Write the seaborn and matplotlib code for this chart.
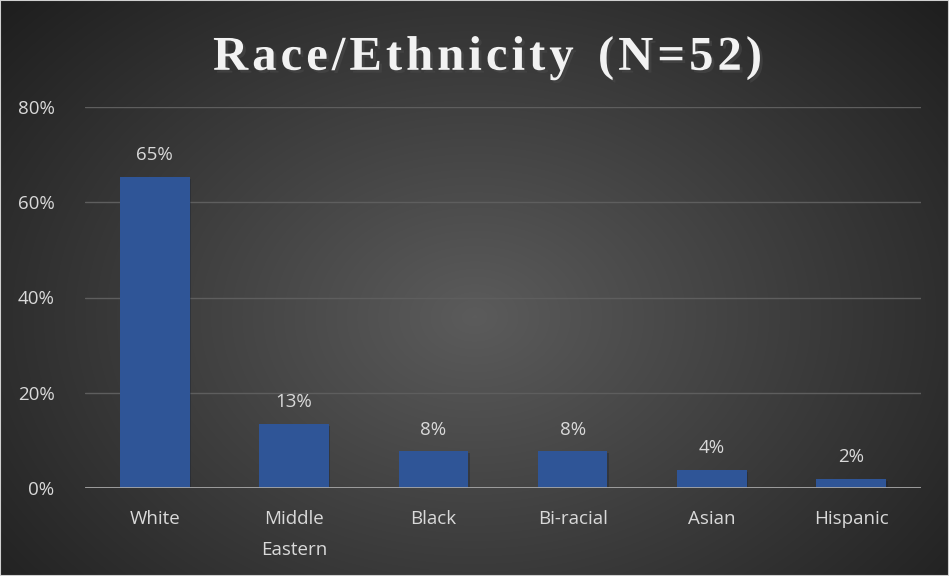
import numpy as np
import pandas as pd
import matplotlib.pyplot as plt
import matplotlib.patheffects as pe
from matplotlib.ticker import PercentFormatter
import seaborn as sns

categories = ["White", "Middle\nEastern", "Black", "Bi-racial", "Asian", "Hispanic"]
shares = [0.654, 0.135, 0.077, 0.077, 0.038, 0.019]
bar_labels = ["65%", "13%", "8%", "8%", "4%", "2%"]

df = pd.DataFrame({"race": categories, "share": shares})

sns.set_style("white")
plt.rcParams["font.family"] = ["Open Sans", "DejaVu Sans"]

W, H = 949, 576
fig = plt.figure(figsize=(W / 100, H / 100), dpi=100)

# radial grey background
bg = fig.add_axes([0, 0, 1, 1])
yy, xx = np.mgrid[0:H, 0:W]
r = np.sqrt(((xx - W * 0.5) / (W * 0.62)) ** 2 + ((yy - H * 0.55) / (H * 0.75)) ** 2)
shade = np.clip(0.36 - 0.22 * r, 0.12, 0.36)
bg.imshow(shade, cmap="gray", vmin=0, vmax=1, aspect="auto", extent=[0, 1, 0, 1])
bg.set_axis_off()
bg.add_patch(plt.Rectangle((0, 0), 1, 1, transform=bg.transAxes, fill=False,
                           edgecolor="#d0d0d0", linewidth=1.5))

ax = fig.add_axes([85 / W, 88 / H, 836 / W, 381 / H])
ax.patch.set_alpha(0)
sns.barplot(data=df, x="race", y="share", color="#2f5597", width=0.5,
            saturation=1, linewidth=0, edgecolor="none", ax=ax, zorder=3)
for p in ax.patches:
    p.set_path_effects([pe.SimplePatchShadow(offset=(1, -1.5), alpha=0.3), pe.Normal()])

ax.set_ylim(0, 0.8)
ax.set_yticks([0, 0.2, 0.4, 0.6, 0.8])
ax.yaxis.set_major_formatter(PercentFormatter(1.0, decimals=0))
ax.grid(axis="y", color="#5e5e5e", linewidth=1, zorder=0)
ax.axhline(0, color="#a6a6a6", linewidth=2, zorder=4)
for s in ax.spines.values():
    s.set_visible(False)
ax.set_xlabel("")
ax.set_ylabel("")
ax.tick_params(axis="both", length=0, colors="#d9d9d9", labelsize=13.5)
ax.tick_params(axis="x", pad=16)
ax.tick_params(axis="y", pad=22)
for t in ax.get_xticklabels():
    t.set_linespacing(1.9)

for i, (v, lab) in enumerate(zip(shares, bar_labels)):
    ax.annotate(lab, (i, v), xytext=(0, 9), textcoords="offset points",
                ha="center", va="bottom", color="#d9d9d9", fontsize=13.5)

title = "\u200a".join("Race/Ethnicity") + "  " + "\u200a".join("(N=52)")
fig.text(487 / W, 1 - 58 / H, title,
         ha="center", va="center", color="#f2f2f2", fontsize=35, fontweight="bold",
         family=["Liberation Serif", "DejaVu Serif"],
         path_effects=[pe.withSimplePatchShadow(offset=(2, -2), alpha=0.6)])

fig.savefig("out.png", dpi=100)
